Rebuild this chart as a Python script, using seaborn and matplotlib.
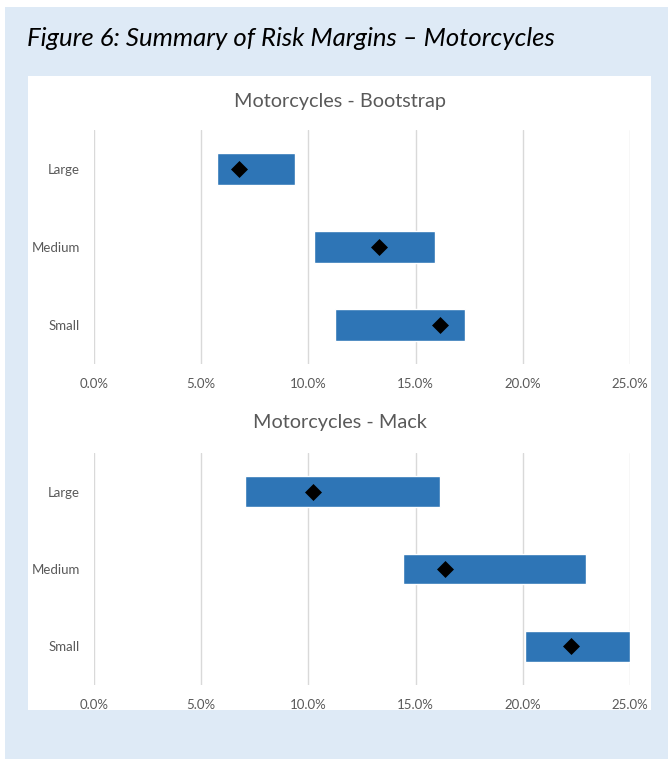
import matplotlib
matplotlib.use("Agg")
import matplotlib.pyplot as plt
from matplotlib.patches import Rectangle
from matplotlib.ticker import PercentFormatter
import seaborn as sns

# data (risk margin ranges and central estimates)
sizes = ["Large", "Medium", "Small"]
boot_low = [0.0574, 0.1028, 0.1123]
boot_high = [0.0938, 0.1589, 0.1730]
boot_mid = [0.0674, 0.1329, 0.1614]
mack_low = [0.0705, 0.1443, 0.2008]
mack_high = [0.1612, 0.2293, 0.2500]
mack_mid = [0.1022, 0.1636, 0.2227]
xticks = [0.0, 0.05, 0.10, 0.15, 0.20, 0.25]

sns.set_theme(style="white")
plt.rcParams["font.family"] = ["Lato", "DejaVu Sans"]

W, H = 668, 759
fig = plt.figure(figsize=(W / 100, H / 100), dpi=100)
fig.patch.set_facecolor("white")

# page background and white chart panel (pixel boxes -> figure fractions)
def px_rect(x0, y0, x1, y1, color, z):
    fig.add_artist(Rectangle((x0 / W, 1 - y1 / H), (x1 - x0) / W, (y1 - y0) / H,
                             transform=fig.transFigure, facecolor=color,
                             edgecolor="none", zorder=z))

px_rect(5, 7, 668, 759, "#DEEAF6", -3)
px_rect(28, 76, 651, 710, "white", -2)

fig.text(27 / W, 1 - 39 / H, "Figure 6: Summary of Risk Margins \u2013 Motorcycles",
         fontsize=18.5, style="italic", color="black", va="center", ha="left")

bar_col = "#2E75B6"
grey = "#595959"


def range_panel(ax, low, high, mid, title, title_y):
    widths = [h - l for l, h in zip(low, high)]
    ax.barh(sizes, widths, left=low, height=0.4, color=bar_col, zorder=2)
    sns.scatterplot(x=mid, y=sizes, ax=ax, marker="D", s=75, color="black",
                    edgecolor="black", linewidth=0, zorder=3)
    ax.set_xlim(0, 0.25)
    ax.set_ylim(2.5, -0.5)
    ax.set_xticks(xticks)
    ax.xaxis.set_major_formatter(PercentFormatter(1.0, decimals=1))
    ax.grid(axis="x", color="#D9D9D9", linewidth=1, zorder=0)
    ax.grid(axis="y", visible=False)
    ax.set_axisbelow(True)
    for s in ax.spines.values():
        s.set_visible(False)
    ax.tick_params(axis="both", length=0, labelsize=9.5, labelcolor=grey)
    ax.tick_params(axis="y", pad=10)
    ax.tick_params(axis="x", pad=10)
    ax.set_xlabel("")
    ax.set_ylabel("")
    ax.set_facecolor("none")
    fig.text(340 / W, 1 - title_y / H, title, fontsize=14.3, color=grey,
             ha="center", va="center")


ax1 = fig.add_axes([94 / W, 1 - 364 / H, 536 / W, 234 / H])
range_panel(ax1, boot_low, boot_high, boot_mid, "Motorcycles - Bootstrap", 101)

ax2 = fig.add_axes([94 / W, 1 - 685 / H, 536 / W, 232 / H])
range_panel(ax2, mack_low, mack_high, mack_mid, "Motorcycles - Mack", 422)

fig.savefig("out.png", dpi=100)
